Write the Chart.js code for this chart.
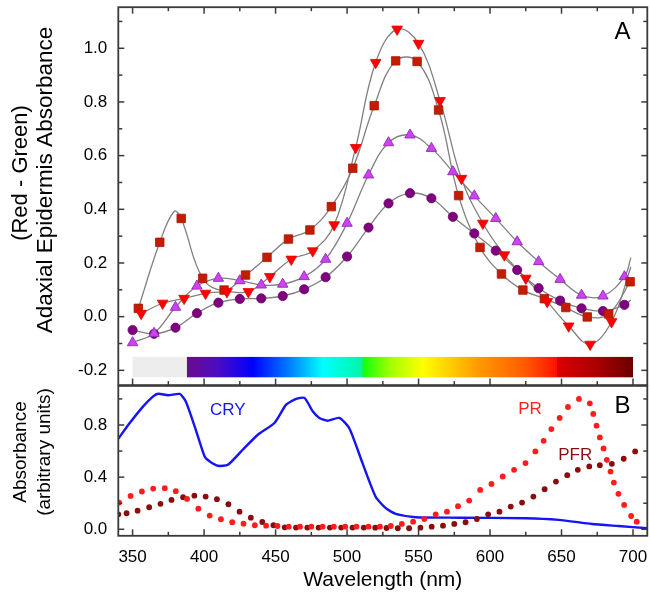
<!DOCTYPE html>
<html><head><meta charset="utf-8">
<script src="https://cdn.jsdelivr.net/npm/chart.js@4.4.1/dist/chart.umd.min.js"></script>
<style>
html,body{margin:0;padding:0;background:#fff;}
#wrap{position:relative;width:650px;height:598px;overflow:hidden;background:#fff;}
#c1{position:absolute;left:0;top:0;}
#c2{position:absolute;left:0;top:380px;}
</style></head><body>
<div id="wrap">
<canvas id="c1" width="650" height="392"></canvas>
<canvas id="c2" width="650" height="218"></canvas>
</div>
<script>
// ---------- Panel A data ----------
const wlSquare = [354,369,384,399,414,429,444,459,474,489,504,519,534,549,564,578,593,608,623,638,653,668,683,698];
const absSquare = [0.031,0.277,0.366,0.143,0.099,0.155,0.221,0.289,0.323,0.41,0.553,0.786,0.953,0.951,0.77,0.451,0.258,0.159,0.099,0.067,0.034,-0.001,0.010,0.13];
const wlTriDown = [356,371,386,401,416,431,446,461,476,491,506,520,535,550,565,580,595,610,625,640,655,670,685];
const absTriDown = [0.012,0.05,0.068,0.087,0.093,0.093,0.149,0.214,0.245,0.342,0.63,0.947,1.071,1.018,0.805,0.515,0.348,0.23,0.143,0.056,-0.035,-0.103,-0.019];
const wlTriUp = [350,365,380,395,410,425,440,455,470,485,500,515,529,544,559,574,589,604,619,634,649,664,679,694];
const absTriUp = [-0.097,-0.062,0.035,0.114,0.143,0.134,0.118,0.121,0.149,0.214,0.348,0.528,0.648,0.677,0.627,0.54,0.45,0.366,0.279,0.205,0.139,0.08,0.077,0.149];
const wlCircle = [350,365,380,395,410,425,440,455,470,485,500,515,529,544,559,574,589,604,619,634,649,664,679,694];
const absCircle = [-0.05,-0.064,-0.041,0.013,0.052,0.066,0.068,0.077,0.102,0.147,0.224,0.332,0.422,0.46,0.441,0.372,0.31,0.246,0.174,0.106,0.06,0.031,0.021,0.044];
// fitted-curve points (the grey fits differ slightly from the markers)
const fitPeakSquare = [379, 0.392];
const fitEndTriDown = [698.5, 0.185];
const fitEndTriUp = [698.5, 0.22];
const fitEndCircle = [698.5, 0.062];

// ---------- Panel B data ----------
const wlCry = [340,348,357.4,364.4,367.9,374.9,383,387.2,393.4,400.4,404,409.7,416.7,427,437.6,449.2,457.4,464.4,470.2,476,480.6,486.4,494.6,501.5,510.8,520,527.1,534.1,548,578.3,624.8,648,671.2,689.8,710];
const absCry = [0.695,0.815,0.943,1.02,1.04,1.028,1.038,0.98,0.79,0.558,0.52,0.487,0.495,0.61,0.725,0.815,0.956,1.0,1.008,0.905,0.854,0.833,0.854,0.777,0.508,0.25,0.162,0.118,0.092,0.089,0.085,0.072,0.041,0.025,0.008];
const wlPR = [340.5,348.6,356.5,364.4,372.5,380.2,388.1,396,403.9,411.8,419.7,427.6,435.5,443.4,451.3,459.2,467.1,475,482.9,490.8,498.7,506.6,515,523,530.6,538.3,546.2,554,562,569.9,577.6,585.4,593.1,601,608.9,616.8,624.8,631.7,637.5,642.9,648.7,654.5,662.2,669.8,672.2,674.5,676.8,679.4,681.7,684.3,686.6,689.8,693.8,698.7,702.6];
const absPR = [0.205,0.256,0.29,0.312,0.315,0.292,0.233,0.158,0.105,0.077,0.054,0.043,0.031,0.028,0.025,0.02,0.02,0.02,0.02,0.02,0.02,0.02,0.02,0.02,0.025,0.041,0.058,0.079,0.115,0.135,0.177,0.22,0.302,0.348,0.405,0.456,0.508,0.597,0.679,0.769,0.854,0.938,1.0,0.966,0.885,0.795,0.705,0.62,0.533,0.443,0.358,0.272,0.187,0.102,0.058];
const wlPFR = [340,345.8,353.5,361.6,369.5,377.2,385.3,393.2,401.1,409,417,424.8,432.7,440.7,448.5,456.4,464.3,472.2,480.1,488,495.9,503.8,511.7,519.7,527.6,535.5,543.4,551.3,559.2,567.1,575,582.9,590.8,598.7,606.6,614.5,622.4,630.3,638.2,646.1,654,661.4,669.4,676.8,685.2,693.5,701.5];
const absPFR = [0.115,0.123,0.143,0.169,0.195,0.225,0.246,0.258,0.251,0.231,0.192,0.135,0.089,0.056,0.031,0.015,0.013,0.013,0.013,0.013,0.013,0.013,0.013,0.012,0.01,0.008,0.008,0.012,0.02,0.028,0.041,0.054,0.079,0.115,0.135,0.174,0.205,0.251,0.308,0.366,0.415,0.456,0.482,0.492,0.502,0.541,0.597];

// ---------- ticks ----------
const xMajorTicks = [350,400,450,500,550,600,650,700];
const xMinorTicks = [375,425,475,525,575,625,675];
const yTicksA = [-0.2,0,0.2,0.4,0.6,0.8,1.0];
const yMinorA = [-0.1,0.1,0.3,0.5,0.7,0.9,1.1];
const yTicksB = [0,0.4,0.8];
const yMinorB = [0.2,0.6,1.0];

// ---------- spectrum bar ----------
const barGray = [350, 388];
const barStops = [388, 410, 434, 460, 483, 505, 510.6, 511, 530, 553, 592, 625, 646.5, 647, 675, 700];
const barColors = ['#6c0a8e','#4a0cc4','#0000ff','#0080ff','#00ffff','#00f8b8','#10f0a0','#10ff10','#a0ff00','#ffff00','#ff9900','#ff5a00','#ff1000','#dd0000','#aa0000','#6a0000'];
const barRange = [-0.15, -0.226];

const pairs = (xs, ys) => xs.map((x, i) => ({x, y: ys[i]}));
const withExtra = (xs, ys, extra) => pairs(xs, ys).concat(extra.map(e => ({x: e[0], y: e[1]}))).sort((a, b) => a.x - b.x);

Chart.defaults.font.family = "'Liberation Sans', Arial, sans-serif";
Chart.defaults.color = '#000';

const X_MIN = 340, X_MAX = 710;
const AXIS_W = 118.3;
const FONT = '"Liberation Sans", Arial, sans-serif';

const fitY = s => { s.width = AXIS_W; s.paddingTop = 0; s.paddingBottom = 0; s.paddingLeft = 0; s.paddingRight = 0; };
const fitX = h => s => { if (h !== null) s.height = h; s.paddingTop = 0; s.paddingBottom = 0; s.paddingLeft = 0; s.paddingRight = 0; };

function frameTicks(opts) {
  return {
    id: 'frameTicks',
    afterDatasetsDraw(chart) {
      const ctx = chart.ctx, a = chart.chartArea;
      const xs = chart.scales.x, ys = chart.scales.y;
      ctx.save();
      ctx.strokeStyle = '#3a3a3a';
      ctx.lineWidth = 1.5;
      const seg = (x1, y1, x2, y2) => { ctx.beginPath(); ctx.moveTo(x1, y1); ctx.lineTo(x2, y2); ctx.stroke(); };
      const doX = (vals, len) => vals.forEach(v => {
        const p = xs.getPixelForValue(v);
        if (opts.topTicks) seg(p, a.top, p, a.top + len);
        seg(p, a.bottom, p, a.bottom - len);
      });
      doX(xMajorTicks, 6.5); doX(xMinorTicks, 4);
      const doY = (vals, len) => vals.forEach(v => {
        const p = ys.getPixelForValue(v);
        seg(a.left, p, a.left + len, p);
        seg(a.right, p, a.right - len, p);
      });
      doY(opts.yMajor, 6); doY(opts.yMinor, 4);
      ctx.lineWidth = 1.8;
      ctx.strokeRect(a.left, a.top, a.right - a.left, a.bottom - a.top);
      ctx.restore();
    }
  };
}

function textPlugin(items) {
  return {
    id: 'texts',
    afterDraw(chart) {
      const ctx = chart.ctx;
      const xs = chart.scales.x, ys = chart.scales.y;
      ctx.save();
      items.forEach(t => {
        ctx.font = t.font;
        ctx.fillStyle = t.color;
        ctx.textAlign = 'center';
        ctx.textBaseline = 'middle';
        if (t.rot) {
          ctx.save();
          ctx.translate(t.px, t.py);
          ctx.rotate(-Math.PI / 2);
          ctx.fillText(t.text, 0, 0);
          ctx.restore();
        } else {
          ctx.fillText(t.text, xs.getPixelForValue(t.x), ys.getPixelForValue(t.y));
        }
      });
      ctx.restore();
    }
  };
}

const spectrumBar = {
  id: 'spectrumBar',
  beforeDatasetsDraw(chart) {
    const ctx = chart.ctx, xs = chart.scales.x, ys = chart.scales.y;
    const y1 = ys.getPixelForValue(barRange[0]), y2 = ys.getPixelForValue(barRange[1]);
    ctx.save();
    ctx.fillStyle = '#ededed';
    const g0 = xs.getPixelForValue(barGray[0]), g1 = xs.getPixelForValue(barGray[1]);
    ctx.fillRect(g0, y1, g1 - g0, y2 - y1);
    const s0 = xs.getPixelForValue(barStops[0]), s1 = xs.getPixelForValue(barStops[barStops.length - 1]);
    const grad = ctx.createLinearGradient(s0, 0, s1, 0);
    barStops.forEach((w, i) => grad.addColorStop((w - barStops[0]) / (barStops[barStops.length - 1] - barStops[0]), barColors[i]));
    ctx.fillStyle = grad;
    ctx.fillRect(s0, y1, s1 - s0, y2 - y1);
    ctx.restore();
  }
};

const lineStyle = {showLine: true, pointRadius: 0, borderColor: '#808080', borderWidth: 1.3, tension: 0.4, order: 10};

new Chart(document.getElementById('c1'), {
  type: 'scatter',
  data: {
    datasets: [
      Object.assign({data: withExtra(wlSquare, absSquare, [fitPeakSquare])}, lineStyle),
      Object.assign({data: withExtra(wlTriDown, absTriDown, [fitEndTriDown])}, lineStyle),
      Object.assign({data: withExtra(wlTriUp, absTriUp, [fitEndTriUp])}, lineStyle),
      Object.assign({data: withExtra(wlCircle, absCircle, [fitEndCircle])}, lineStyle),
      {data: pairs(wlCircle, absCircle), pointStyle: 'circle', pointRadius: 4.6, backgroundColor: '#7e007e', borderColor: '#6a006a', borderWidth: 0.8, order: 4},
      {data: pairs(wlTriUp, absTriUp), pointStyle: 'triangle', pointRadius: 6, backgroundColor: '#cc44ee', borderColor: '#9c2cc4', borderWidth: 1, order: 3},
      {data: pairs(wlSquare, absSquare), pointStyle: 'rect', pointRadius: 6, backgroundColor: '#c41c00', borderColor: '#a81800', borderWidth: 0.8, order: 2},
      {data: pairs(wlTriDown, absTriDown), pointStyle: 'triangle', rotation: 180, pointRadius: 6.2, backgroundColor: '#ff0000', borderColor: '#e80000', borderWidth: 0.8, order: 1}
    ]
  },
  options: {
    responsive: false, animation: false, devicePixelRatio: 1,
    layout: {autoPadding: false, padding: {left: 0, right: 2.7, top: 7.2, bottom: 6.9}},
    plugins: {legend: {display: false}, tooltip: {enabled: false}},
    scales: {
      x: {type: 'linear', min: X_MIN, max: X_MAX, display: false, afterFit: fitX(null)},
      y: {
        type: 'linear', min: -0.255, max: 1.153,
        afterBuildTicks: s => { s.ticks = yTicksA.map(v => ({value: v})); },
        afterFit: fitY,
        grid: {display: false, drawTicks: false},
        border: {display: false},
        ticks: {padding: 11, font: {size: 17}, color: '#000', callback: v => v.toFixed(1)}
      }
    }
  },
  plugins: [spectrumBar, frameTicks({topTicks: true, yMajor: yTicksA, yMinor: yMinorA}),
    textPlugin([
      {text: 'A', x: 692.6, y: 1.061, font: '24px ' + FONT, color: '#000'},
      {text: '(Red - Green)', rot: true, px: 21, py: 173, font: '22px ' + FONT, color: '#000'},
      {text: 'Adaxial Epidermis Absorbance', rot: true, px: 46, py: 180, font: '22.5px ' + FONT, color: '#000'}
    ])]
});

new Chart(document.getElementById('c2'), {
  type: 'scatter',
  data: {
    datasets: [
      {data: pairs(wlCry, absCry), showLine: true, pointRadius: 0, borderColor: '#1414f4', borderWidth: 2.4, tension: 0.2, order: 3},
      {data: pairs(wlPFR, absPFR), pointStyle: 'circle', pointRadius: 2.9, backgroundColor: '#8a0c0c', borderWidth: 0, order: 2},
      {data: pairs(wlPR, absPR), pointStyle: 'circle', pointRadius: 2.9, backgroundColor: '#ff1c1c', borderWidth: 0, order: 1}
    ]
  },
  options: {
    responsive: false, animation: false, devicePixelRatio: 1,
    layout: {autoPadding: false, padding: {left: 0, right: 2.7, top: 5.9, bottom: 0}},
    plugins: {legend: {display: false}, tooltip: {enabled: false}},
    scales: {
      x: {
        type: 'linear', min: X_MIN, max: X_MAX,
        afterBuildTicks: s => { s.ticks = xMajorTicks.map(v => ({value: v})); },
        afterFit: fitX(62.2),
        grid: {display: false, drawTicks: false},
        border: {display: false},
        ticks: {padding: 11, font: {size: 17}, color: '#000', callback: v => String(v)},
        title: {display: true, text: 'Wavelength (nm)', font: {size: 21}, color: '#000', padding: {top: 0, bottom: 5.4}}
      },
      y: {
        type: 'linear', min: -0.05, max: 1.1,
        afterBuildTicks: s => { s.ticks = yTicksB.map(v => ({value: v})); },
        afterFit: fitY,
        grid: {display: false, drawTicks: false},
        border: {display: false},
        ticks: {padding: 11, font: {size: 17}, color: '#000', callback: v => v.toFixed(1)}
      }
    }
  },
  plugins: [frameTicks({topTicks: false, yMajor: yTicksB, yMinor: yMinorB}),
    textPlugin([
      {text: 'CRY', x: 416.5, y: 0.91, font: '17px ' + FONT, color: '#1414f4'},
      {text: 'PR', x: 628, y: 0.922, font: '17px ' + FONT, color: '#ff2020'},
      {text: 'PFR', x: 659.6, y: 0.57, font: '17px ' + FONT, color: '#8a1010'},
      {text: 'B', x: 692.6, y: 0.94, font: '24px ' + FONT, color: '#000'},
      {text: 'Absorbance', rot: true, px: 21, py: 72, font: '19px ' + FONT, color: '#000'},
      {text: '(arbitrary units)', rot: true, px: 45, py: 72, font: '19px ' + FONT, color: '#000'}
    ])]
});
</script>
</body></html>
